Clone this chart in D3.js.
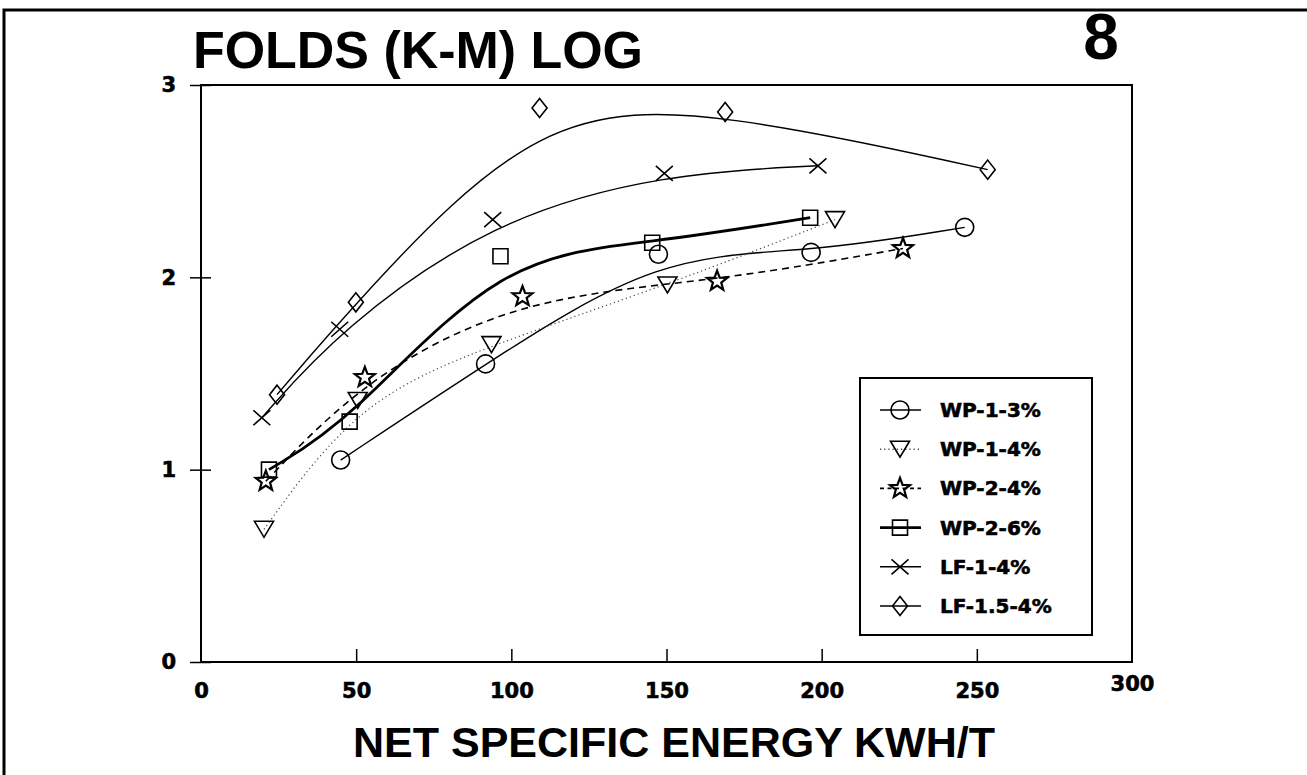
<!DOCTYPE html>
<html>
<head>
<meta charset="utf-8">
<script src="https://cdn.jsdelivr.net/npm/d3@7"></script>
<style>
  body { margin: 0; background: #fff; }
  svg { display: block; }
  .tick text { font-family: 'DejaVu Sans', sans-serif; font-weight: bold; font-size: 21px; fill: #000; stroke: #000; stroke-width: 0.6px; }
  .big-text { font-family: 'Liberation Sans', Arial, sans-serif; font-weight: bold; fill: #000; }
  .legend-text { font-family: 'DejaVu Sans', sans-serif; font-weight: bold; font-size: 20px; fill: #000; stroke: #000; stroke-width: 0.6px; }
</style>
</head>
<body>
<div id="chart"></div>
<script>
const seriesNames = ['WP-1-3%', 'WP-1-4%', 'WP-2-4%', 'WP-2-6%', 'LF-1-4%', 'LF-1.5-4%'];

// net specific energy (kWh/t) and folds (log)
const wp13Energy = [45.0, 91.7, 147.4, 196.6, 246.1];
const wp13Folds = [1.05, 1.55, 2.12, 2.13, 2.26];
const wp14Energy = [20.3, 50.5, 93.6, 150.3, 204.3];
const wp14Folds = [0.69, 1.36, 1.65, 1.96, 2.3];
const wp24Energy = [20.9, 52.8, 103.6, 166.3, 226.2];
const wp24Folds = [0.94, 1.48, 1.9, 1.98, 2.15];
const wp26Energy = [21.9, 47.9, 96.5, 145.4, 196.3];
const wp26Folds = [1.0, 1.25, 2.11, 2.18, 2.31];
const lf14Energy = [19.6, 44.7, 94.0, 149.3, 198.8];
const lf14Folds = [1.27, 1.73, 2.3, 2.54, 2.58];
const lf154Energy = [24.5, 49.9, 109.1, 168.9, 253.5];
const lf154Folds = [1.39, 1.87, 2.88, 2.86, 2.56];

const xTicks = [0, 50, 100, 150, 200, 250, 300];
const yTicks = [0, 1, 2, 3];

const seriesData = [
  d3.zip(wp13Energy, wp13Folds),
  d3.zip(wp14Energy, wp14Folds),
  d3.zip(wp24Energy, wp24Folds),
  d3.zip(wp26Energy, wp26Folds),
  d3.zip(lf14Energy, lf14Folds),
  d3.zip(lf154Energy, lf154Folds),
];

const seriesStyles = [
  { marker: 'circle', width: 1.4, dash: null, color: '#000' },
  { marker: 'triangle', width: 1.2, dash: '1.2,3', color: '#444' },
  { marker: 'star', width: 1.6, dash: '7,5', color: '#000' },
  { marker: 'square', width: 2.8, dash: null, color: '#000' },
  { marker: 'cross', width: 1.4, dash: null, color: '#000' },
  { marker: 'diamond', width: 1.4, dash: null, color: '#000' },
];

const WIDTH = 1307;
const HEIGHT = 775;
const LEFT = 201;
const RIGHT = 1132;
const TOP = 85;
const BOTTOM = 662;

const starPath = () => {
  const points = d3.range(10).map((i) => {
    const r = i % 2 === 0 ? 10.5 : 4.4;
    const a = -Math.PI / 2 + (i * Math.PI) / 5;
    return [r * Math.cos(a), r * Math.sin(a)];
  });
  return 'M' + points.map((p) => p.map((v) => v.toFixed(2)).join(',')).join('L') + 'Z';
};

const markerPath = (type) => {
  switch (type) {
    case 'circle':
      return 'M9,0A9,9 0 1,1 -9,0A9,9 0 1,1 9,0Z';
    case 'triangle':
      return 'M-9.5,-8L9.5,-8L0,8Z';
    case 'square':
      return 'M-7.5,-7.5H7.5V7.5H-7.5Z';
    case 'cross':
      return 'M-8.5,-7.5L8.5,7.5M-8.5,7.5L8.5,-7.5';
    case 'diamond':
      return 'M0,-9.5L7.5,0L0,9.5L-7.5,0Z';
    default:
      return starPath();
  }
};

const drawChart = () => {
  const svg = d3
    .select('#chart')
    .append('svg')
    .attr('width', WIDTH)
    .attr('height', HEIGHT);

  svg.append('rect').attr('width', WIDTH).attr('height', HEIGHT).attr('fill', '#fff');

  // page frame of the scanned sheet
  svg
    .append('path')
    .attr('d', `M4,${HEIGHT} V10 H${WIDTH}`)
    .attr('fill', 'none')
    .attr('stroke', '#000')
    .attr('stroke-width', 3);

  const x = d3.scaleLinear().domain([0, 300]).range([LEFT, RIGHT]);
  const y = d3.scaleLinear().domain([0, 3]).range([BOTTOM, TOP]);

  // plot frame
  svg
    .append('rect')
    .attr('x', LEFT)
    .attr('y', TOP)
    .attr('width', RIGHT - LEFT)
    .attr('height', BOTTOM - TOP)
    .attr('fill', 'none')
    .attr('stroke', '#000')
    .attr('stroke-width', 2);

  const xAxis = svg
    .append('g')
    .attr('transform', `translate(0, ${BOTTOM})`)
    .call(
      d3
        .axisBottom(x)
        .tickValues(xTicks)
        .tickFormat(d3.format('d'))
        .tickSizeInner(-13)
        .tickSizeOuter(0)
        .tickPadding(21)
    );
  xAxis.select('.domain').remove();
  xAxis
    .selectAll('.tick line')
    .attr('stroke-width', 1.5)
    .filter((d) => d === 0 || d === 300)
    .remove();
  xAxis
    .selectAll('.tick text')
    .filter((d) => d === 300)
    .attr('y', 14);

  const yAxis = svg
    .append('g')
    .attr('transform', `translate(${LEFT}, 0)`)
    .call(
      d3
        .axisLeft(y)
        .tickValues(yTicks)
        .tickFormat(d3.format('d'))
        .tickSizeInner(11)
        .tickSizeOuter(0)
        .tickPadding(14)
    );
  yAxis.select('.domain').remove();
  yAxis.selectAll('.tick line').attr('x1', 10).attr('stroke-width', 1.5);

  const line = d3
    .line()
    .x((d) => x(d[0]))
    .y((d) => y(d[1]))
    .curve(d3.curveBasis);

  const series = svg
    .append('g')
    .selectAll('g')
    .data(seriesData)
    .join('g');

  series
    .append('path')
    .attr('d', line)
    .attr('fill', 'none')
    .attr('stroke', (_, i) => seriesStyles[i].color)
    .attr('stroke-width', (_, i) => seriesStyles[i].width)
    .attr('stroke-dasharray', (_, i) => seriesStyles[i].dash);

  series.each(function (points, i) {
    d3.select(this)
      .selectAll('.marker')
      .data(points)
      .join('path')
      .attr('class', 'marker')
      .attr('transform', (d) => `translate(${x(d[0])}, ${y(d[1])})`)
      .attr('d', markerPath(seriesStyles[i].marker))
      .attr('fill', 'none')
      .attr('stroke', '#000')
      .attr('stroke-width', seriesStyles[i].marker === 'star' ? 2.2 : 1.6);
  });

  // legend
  const legend = svg.append('g').attr('transform', 'translate(860, 378)');
  legend
    .append('rect')
    .attr('width', 232)
    .attr('height', 257)
    .attr('fill', '#fff')
    .attr('stroke', '#000')
    .attr('stroke-width', 2);

  const legendItems = legend
    .selectAll('.legend-item')
    .data(seriesNames)
    .join('g')
    .attr('class', 'legend-item')
    .attr('transform', (_, i) => `translate(40, ${32 + i * 39.2})`);

  legendItems
    .append('line')
    .attr('x1', -20)
    .attr('x2', 21)
    .attr('stroke', (_, i) => seriesStyles[i].color)
    .attr('stroke-width', (_, i) => Math.max(seriesStyles[i].width, 1.6))
    .attr('stroke-dasharray', (_, i) => (seriesStyles[i].dash === '7,5' ? '4,3.5' : seriesStyles[i].dash));

  legendItems
    .append('path')
    .attr('d', (_, i) => markerPath(seriesStyles[i].marker))
    .attr('fill', 'none')
    .attr('stroke', '#000')
    .attr('stroke-width', (_, i) => (seriesStyles[i].marker === 'star' ? 2.2 : 1.6));

  legendItems
    .append('text')
    .attr('class', 'legend-text')
    .attr('x', 40)
    .attr('y', 7)
    .text((d) => d);

  // titles
  svg
    .append('text')
    .attr('class', 'big-text')
    .attr('x', 193)
    .attr('y', 68)
    .attr('font-size', 52)
    .attr('textLength', 450)
    .attr('lengthAdjust', 'spacingAndGlyphs')
    .text('FOLDS (K-M) LOG');

  svg
    .append('text')
    .attr('class', 'big-text')
    .attr('x', 1101)
    .attr('y', 59)
    .attr('text-anchor', 'middle')
    .attr('font-size', 64)
    .text('8');

  svg
    .append('text')
    .attr('class', 'big-text')
    .attr('x', 353)
    .attr('y', 757)
    .attr('font-size', 42)
    .attr('textLength', 642)
    .attr('lengthAdjust', 'spacingAndGlyphs')
    .text('NET SPECIFIC ENERGY KWH/T');
};

drawChart();
</script>
</body>
</html>
